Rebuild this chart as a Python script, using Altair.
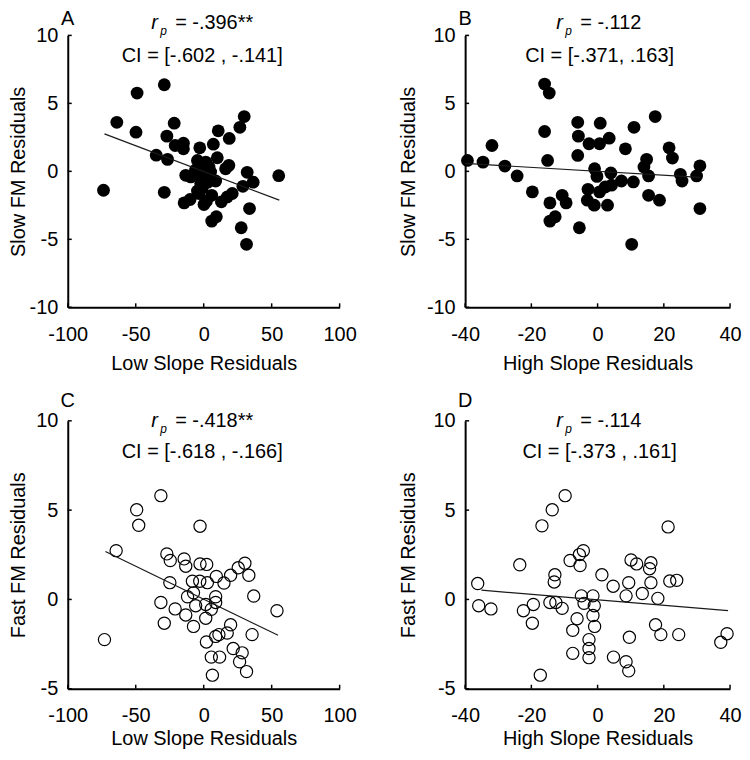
import altair as alt
import pandas as pd

# ---------------- data ----------------
# Panel A: Low Slope Residuals (x) vs Slow FM Residuals (y)
a_x = [-29.0, -49.0, -63.9, -49.8, -21.7, -27.1, -21.0, -14.9, -14.9, -34.9, -26.6, -73.7, -29.0,
       -2.9, 7.1, 10.7, 18.8, 26.6, 29.8, 55.2, 32.0, 36.4, 28.8, 33.7, 27.6, 31.5, 21.0, 17.3,
       13.0, 9.3, 5.9, 5.9, 0.2, -14.4, -10.0, -13.2, -4.6, 1.5, 10.0, 16.1, 18.5, -4.6, 0.2,
       5.1, 8.8, -2.2, -4.6, -9.5, 3.9, -0.3, -3.4, 2.0, -6.0, 3.0, -1.0]
a_y = [6.37, 5.76, 3.61, 2.88, 3.54, 2.59, 1.90, 2.07, 1.66, 1.19, 0.88, -1.39, -1.54,
       1.73, 2.00, 2.98, 2.42, 3.24, 4.03, -0.32, -0.07, -0.80, -1.10, -2.74, -4.15, -5.37, -1.63, -1.88,
       -2.24, -3.34, -3.66, -1.76, -2.44, -2.32, -2.07, -0.29, 0.80, 0.68, 1.00, 0.19, 0.44, -0.17, -0.29,
       -0.05, -0.71, -0.90, -1.44, -0.41, 0.32, 0.32, -1.63, -2.20, 0.10, -0.80, -1.20]
a_line_x = [-73.0, 55.6]
a_line_y = [2.76, -2.12]

# Panel B: High Slope Residuals (x) vs Slow FM Residuals (y)
b_x = [-39.3, -34.6, -31.9, -28.0, -24.3, -19.7, -16.0, -14.6, -16.0, -15.1, -14.4, -14.4, -12.8,
       -10.7, -9.5, -6.0, -5.8, -6.0, -5.5, -2.6, 0.6, 0.8, 3.5, 8.4, 11.0, 17.4, -0.9, -0.2, 4.0,
       7.2, 4.2, 2.3, -2.9, 0.6, -3.1, -1.0, 3.0, 10.8, 10.3, 14.8, 14.0, 15.4, 15.4, 18.7, 21.6,
       22.6, 25.0, 25.5, 30.9, 29.9, 30.9]
b_y = [0.80, 0.68, 1.90, 0.39, -0.34, -1.51, 6.42, 5.76, 2.93, 0.80, -2.32, -3.66, -3.34,
       -1.76, -2.32, 3.61, 2.59, 1.17, -4.15, 2.03, 2.03, 3.54, 2.44, 1.66, 3.24, 4.03, 0.19, -0.37, -0.12,
       -0.71, -1.02, -1.15, -1.32, -1.51, -2.12, -2.49, -2.49, -0.78, -5.37, 0.88, 0.32, -0.34, -1.76, -2.12, 1.73,
       0.98, -0.22, -0.71, 0.41, -0.34, -2.74]
b_line_x = [-40.0, 31.0]
b_line_y = [0.58, -0.45]

# Panel C: Low Slope Residuals (x) vs Fast FM Residuals (y)
c_x = [-31.5, -49.3, -47.8, -2.7, -64.4, -27.1, -24.6, -14.4, -13.2, -2.7, 2.2, 25.4, 30.3, 33.2,
       19.8, 9.3, 14.9, -8.3, -2.9, 2.7, -24.9, 36.8, -11.9, 8.8, -31.5, -21.0, -13.2, -5.9, 1.5,
       5.6, 53.9, -29.0, -7.5, 1.5, 19.8, 11.2, 35.6, -73.0, 17.3, 2.0, 8.8, 21.7, 28.3, 5.6, 11.7,
       26.4, 31.5, 6.4, 8.8, -7.5]
c_y = [5.81, 5.02, 4.15, 4.10, 2.73, 2.55, 2.18, 2.27, 1.86, 1.99, 1.96, 1.77, 2.03, 1.35,
       1.35, 1.29, 0.92, 1.02, 1.02, 0.94, 0.94, 0.19, 0.15, 0.15, -0.17, -0.53, -0.87, -0.35, -0.28,
       -0.55, -0.63, -1.33, -1.51, -1.05, -1.42, -1.97, -1.97, -2.25, -1.88, -2.38, -2.07, -2.75, -2.99, -3.23, -3.23,
       -3.49, -4.04, -4.24, -0.17, 0.37]
c_line_x = [-72.3, 54.7]
c_line_y = [2.68, -2.01]

# Panel D: High Slope Residuals (x) vs Fast FM Residuals (y)
d_x = [-9.8, -13.7, -16.8, 21.3, -23.5, -8.3, -4.3, -5.5, -5.3, 10.1, 11.8, 16.1, 15.7, -12.9,
       -13.1, 1.3, 4.7, 9.4, 16.1, 21.8, 23.9, 8.6, 13.5, 18.2, -36.2, -35.9, -32.2, -22.4, -19.4,
       -19.7, -14.4, -12.6, -10.7, -4.9, -1.4, -4.1, -1.0, -1.4, -0.9, -6.2, -7.5, -2.6, 9.6, 17.5,
       19.1, -17.3, -7.5, -2.6, -2.6, 4.8, 8.6, 9.4, 24.5, 37.2, 39.1]
d_y = [5.81, 5.02, 4.12, 4.06, 1.94, 2.18, 2.73, 2.51, 1.90, 2.21, 1.99, 2.05, 1.72, 1.38,
       0.98, 1.38, 0.74, 0.94, 0.94, 1.03, 1.07, 0.20, 0.33, 0.06, 0.89, -0.35, -0.53, -0.63, -0.28,
       -1.33, -0.17, -0.17, -0.50, 0.20, 0.20, -0.22, -0.35, -0.90, -1.51, -1.08, -1.73, -2.25, -2.12, -1.42,
       -1.97, -4.24, -3.02, -2.75, -3.26, -3.23, -3.49, -4.00, -1.97, -2.40, -1.92]
d_line_x = [-35.1, 39.4]
d_line_y = [0.52, -0.63]

x_ticks_low = [-100, -50, 0, 50, 100]
x_ticks_high = [-40, -20, 0, 20, 40]
y_ticks_slow = [-10, -5, 0, 5, 10]
y_ticks_fast = [-5, 0, 5, 10]

# ---------------- layout helpers ----------------
FONT = "Liberation Sans"
FS = 20
CHAR_W = {"=": 0.584, " ": 0.278, "-": 0.333, ".": 0.278, "*": 0.389}


def text_w(s):
    return sum(CHAR_W.get(ch, 0.556) for ch in s) * FS


def txt(s, x, y, size=FS, align="left", baseline="alphabetic", style="normal"):
    return alt.Chart(pd.DataFrame({"t": [s]})).mark_text(
        align=align, baseline=baseline, font=FONT, fontSize=size, fontStyle=style, color="black"
    ).encode(x=alt.value(x), y=alt.value(y), text="t:N")


def panel(xs, ys, lx, ly, xdom, xt, ydom, yt, xtitle, ytitle, filled, letter,
          r_rest, ci_text, w, h, letter_y, rp_y, ci_y, title_x, xtitle_y):
    df = pd.DataFrame({"x": xs, "y": ys})
    xscale = alt.Scale(domain=xdom, nice=False, zero=False)
    yscale = alt.Scale(domain=ydom, nice=False, zero=False)
    xaxis = alt.Axis(values=xt, title=xtitle, titleY=xtitle_y, titleBaseline="alphabetic",
                     labelPadding=17, labelFlush=False, labelOverlap=False,
                     labelExpr="toString(datum.value)")
    yaxis = alt.Axis(values=yt, title=ytitle, titleX=title_x, titleBaseline="middle",
                     labelPadding=10, labelFlush=False, labelOverlap=False,
                     labelExpr="toString(datum.value)")
    xenc = alt.X("x:Q", scale=xscale, axis=xaxis)
    yenc = alt.Y("y:Q", scale=yscale, axis=yaxis)
    if filled:
        pts = alt.Chart(df).mark_point(filled=True, size=165, color="black", opacity=1)
    else:
        pts = alt.Chart(df).mark_point(filled=False, size=150, color="black",
                                       strokeWidth=1.2, opacity=1)
    pts = pts.encode(x=xenc, y=yenc)
    line = alt.Chart(pd.DataFrame({"x": lx, "y": ly})).mark_line(
        color="#1a1a1a", strokeWidth=1.2
    ).encode(x=xenc, y=yenc)
    xtick = alt.Chart(pd.DataFrame({"x": xt})).mark_rule(color="black", strokeWidth=1.5).encode(
        x=xenc, y=alt.value(h), y2=alt.value(h - 4))
    ytick = alt.Chart(pd.DataFrame({"y": yt})).mark_rule(color="black", strokeWidth=1.5).encode(
        y=yenc, x=alt.value(0), x2=alt.value(4))

    c = 135
    rw = text_w(r_rest)
    rs = c - (24 + rw) / 2 + 24
    texts = [
        txt(letter, 0, letter_y, align="center", baseline="top"),
        txt("r", rs - 24, rp_y, style="italic"),
        txt("p", rs - 15, rp_y + 6, size=12, style="italic"),
        txt(r_rest, rs, rp_y),
        txt(ci_text, c, ci_y, align="center"),
    ]
    return alt.layer(pts, line, xtick, ytick, *texts).properties(width=w, height=h)


WA, WB = 273, 266
H1, H2 = 273, 269
A = panel(a_x, a_y, a_line_x, a_line_y, [-100, 100], x_ticks_low, [-10, 10], y_ticks_slow,
          "Low Slope Residuals", "Slow FM Residuals", True, "A", "= -.396**",
          "CI = [-.602 , -.141]", WA, H1, -26, -6, 27, -49, 62)
B = panel(b_x, b_y, b_line_x, b_line_y, [-40, 40], x_ticks_high, [-10, 10], y_ticks_slow,
          "High Slope Residuals", "Slow FM Residuals", True, "B", "= -.112",
          "CI = [-.371, .163]", WB, H1, -26, -6, 27, -57, 62)
C = panel(c_x, c_y, c_line_x, c_line_y, [-100, 100], x_ticks_low, [-5, 10], y_ticks_fast,
          "Low Slope Residuals", "Fast FM Residuals", False, "C", "= -.418**",
          "CI = [-.618 , -.166]", WA, H2, -30, 6, 37, -49, 56)
D = panel(d_x, d_y, d_line_x, d_line_y, [-40, 40], x_ticks_high, [-5, 10], y_ticks_fast,
          "High Slope Residuals", "Fast FM Residuals", False, "D", "= -.114",
          "CI = [-.373 , .161]", WB, H2, -30, 6, 37, -57, 56)

chart = alt.concat(
    A, B, C, D,
    columns=2,
    spacing={"row": 114, "column": 126},
    bounds="flush",
    padding=0,
).configure_view(stroke=None).configure_axis(
    grid=False, ticks=False, tickSize=0, domainColor="black", domainWidth=2,
    labelFont=FONT, labelFontSize=FS, labelColor="black",
    titleFont=FONT, titleFontSize=FS, titleFontWeight="normal", titleColor="black",
)

chart.save("out.html", embed_options={"renderer": "svg", "actions": False})
